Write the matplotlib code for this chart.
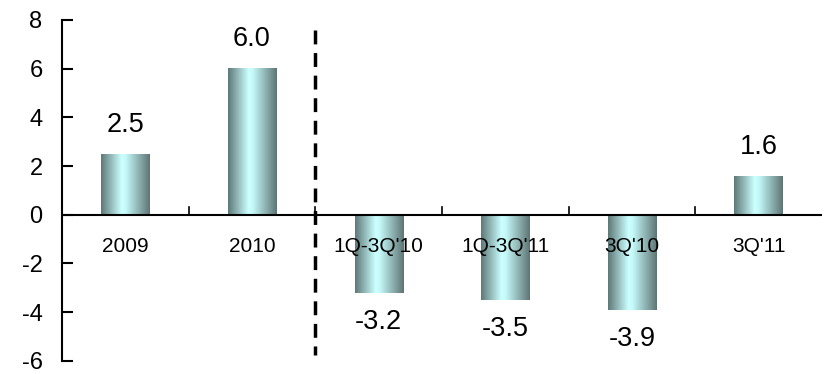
import numpy as np
import matplotlib.pyplot as plt
from matplotlib.colors import LinearSegmentedColormap

plt.rcParams['font.family'] = ['Liberation Sans', 'DejaVu Sans']

categories = ['2009', '2010', "1Q-3Q'10", "1Q-3Q'11", "3Q'10", "3Q'11"]
values = [2.5, 6.0, -3.2, -3.5, -3.9, 1.6]
value_labels = ['2.5', '6.0', '-3.2', '-3.5', '-3.9', '1.6']
yticks = [-6, -4, -2, 0, 2, 4, 6, 8]

fig = plt.figure(figsize=(8.26, 3.74), dpi=100)
ax = fig.add_axes([0.075, 0.035, 0.92, 0.912])

# horizontal shading of each bar: dark edges, light cyan middle
cmap = LinearSegmentedColormap.from_list(
    'bar', [(0, '#5e7878'), (0.42, '#ccffff'), (0.5, '#c6fafa'), (1, '#5e7474')])
grad = np.linspace(0, 1, 256).reshape(1, -1)

width = 0.38
for i, v in enumerate(values):
    ax.imshow(grad, cmap=cmap, aspect='auto', extent=[i - width / 2, i + width / 2, min(0, v), max(0, v)],
              zorder=2)
    if v >= 0:
        ax.text(i, v + 1.2, value_labels[i], ha='center', va='center', fontsize=19.5)
    else:
        ax.text(i, v - 1.2, value_labels[i], ha='center', va='center', fontsize=19.5)
    ax.text(i, -1.3, categories[i], ha='center', va='center', fontsize=15)

ax.set_xlim(-0.5, 5.5)
ax.set_ylim(-6, 8)
ax.set_yticks(yticks)
ax.set_yticklabels([str(t) for t in yticks], fontsize=17)
ax.set_xticks([])

for s in ['top', 'right', 'bottom']:
    ax.spines[s].set_visible(False)
ax.spines['left'].set_linewidth(1.5)
ax.tick_params(axis='y', direction='in', length=8, width=1.5, pad=14)

ax.axhline(0, color='black', lw=1.5, zorder=3)
for x in np.arange(0.5, 5.5, 1):
    ax.plot([x, x], [0, 0.3], color='black', lw=1.2, zorder=3)

ax.plot([1.5, 1.5], [7.6, -5.75], color='black', lw=2.5, ls=(0, (4, 2.5)), zorder=3)

plt.savefig('out.png', dpi=100)
